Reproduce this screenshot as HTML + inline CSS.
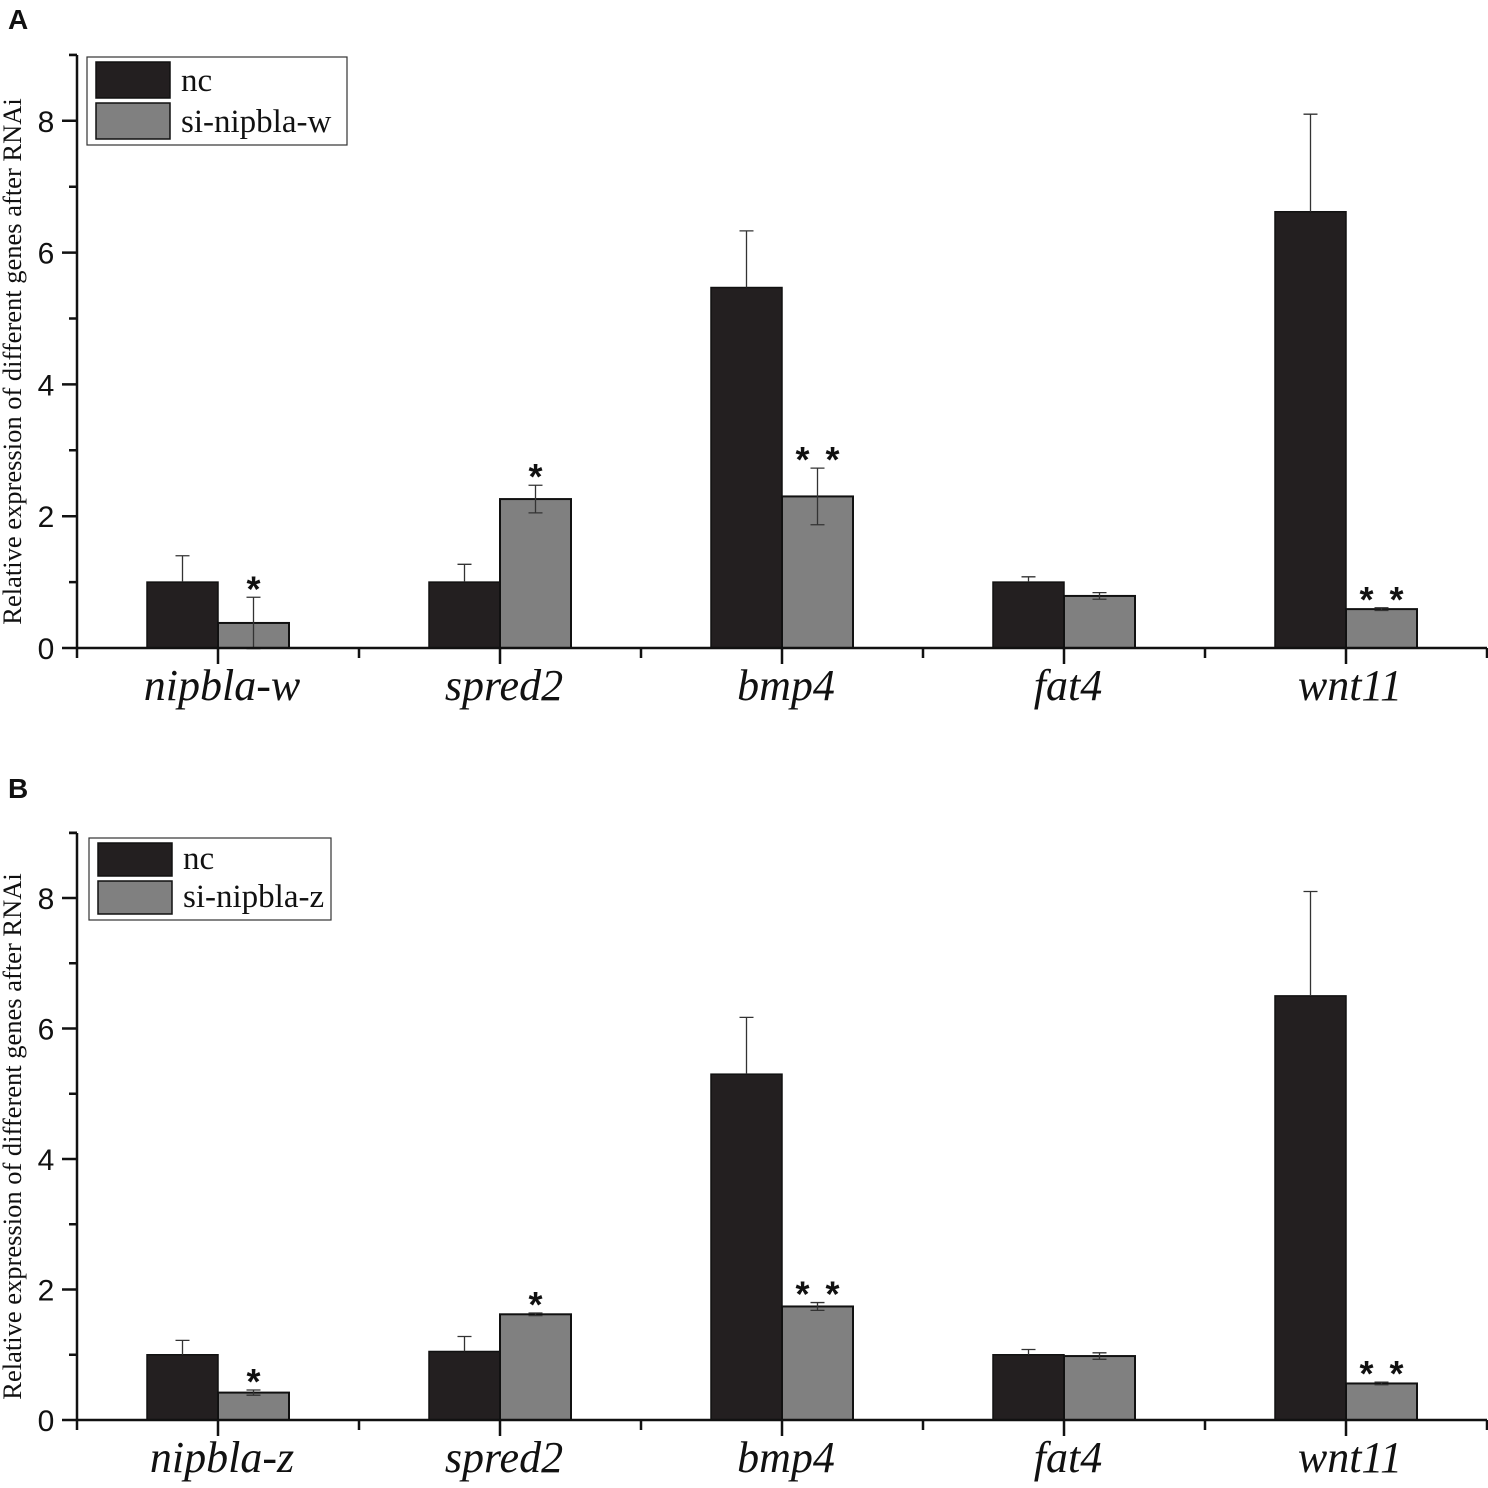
<!DOCTYPE html>
<html><head><meta charset="utf-8"><style>
html,body{margin:0;padding:0;background:#fff;}
svg{display:block;}
</style></head><body>
<svg id="chart" width="1488" height="1488" viewBox="0 0 1488 1488" xmlns="http://www.w3.org/2000/svg"></svg>
<script>
const genesA = ["nipbla-w","spred2","bmp4","fat4","wnt11"];
const ncA = [1, 1, 5.47, 1, 6.62];
const ncErrA = [0.40, 0.27, 0.86, 0.08, 1.48];
const siA = [0.38, 2.26, 2.30, 0.79, 0.59];
const siErrA = [0.39, 0.21, 0.43, 0.05, 0.02];
const sigA = ["*","*","* *","","* *"];

const genesB = ["nipbla-z","spred2","bmp4","fat4","wnt11"];
const ncB = [1, 1.05, 5.3, 1, 6.5];
const ncErrB = [0.22, 0.23, 0.87, 0.08, 1.6];
const siB = [0.42, 1.62, 1.74, 0.98, 0.56];
const siErrB = [0.04, 0.02, 0.06, 0.05, 0.02];
const sigB = ["*","*","* *","","* *"];

const yTicks = [0,2,4,6,8];

const NS = "http://www.w3.org/2000/svg";
const svg = document.getElementById("chart");
function mk(tag, attrs, parent){const e=document.createElementNS(NS,tag);for(const k in attrs)e.setAttribute(k,attrs[k]);(parent||svg).appendChild(e);return e;}

function panel(p){
  const g = mk("g",{});
  
  
  const x0=77, x1=1487;
  const y = v => p.y0 - v*p.unit;
  const step=282, first=218, bw=71;
  const cx = i => first + i*step;
  const lbl = mk("text",{x:8,y:p.letterY,"font-family":"Liberation Sans, sans-serif","font-weight":"bold","font-size":28,fill:"#111"},g);
  lbl.textContent=p.letter;
  
  
  p.genes.forEach((gn,i)=>{
    const c=cx(i);
    const b1=mk("rect",{x:c-bw,y:y(p.nc[i]),width:bw,height:p.nc[i]*p.unit,fill:"#231f20",stroke:"#111","stroke-width":1.5},g);
    
    
    const b2=mk("rect",{x:c,y:y(p.si[i]),width:bw,height:p.si[i]*p.unit,fill:"#808080",stroke:"#111","stroke-width":2},g);
    
    
    const ex=c-bw/2;
    const e1=mk("path",{d:`M${ex},${y(p.nc[i])} V${y(p.nc[i]+p.ncErr[i])} M${ex-7},${y(p.nc[i]+p.ncErr[i])} H${ex+7}`,stroke:"#333","stroke-width":1.3,fill:"none"},g);
    
    
    const sx=c+bw/2, hi=y(p.si[i]+p.siErr[i]), lo=y(p.si[i]-p.siErr[i]);
    const e2=mk("path",{d:`M${sx},${lo} V${hi} M${sx-7},${hi} H${sx+7} M${sx-7},${lo} H${sx+7}`,stroke:"#333","stroke-width":1.3,fill:"none"},g);
    
    
    if(p.sig[i]){
      const parts=p.sig[i].split(" ");
      parts.forEach((s,k)=>{
        const off = parts.length>1 ? (k===0?-15:15) : 0;
        const t=mk("text",{x:sx+off,y:hi+4,"text-anchor":"middle","font-family":"Liberation Sans, sans-serif","font-weight":"bold","font-size":36,fill:"#111"},g);
        t.textContent=s;
        
        
      });
    }
    const t=mk("text",{x:c+4,y:p.y0+52,"text-anchor":"middle","font-family":"Liberation Serif, serif","font-style":"italic","font-size":44,fill:"#111"},g);
    t.textContent=gn;
    
    
  });
  let d=`M${x0},${p.top} V${p.y0} H${x1}`;
  for(let i=0;i<=5;i++){const xx=x0+i*step;d+=` M${xx},${p.y0} v10`;}
  for(let i=0;i<5;i++){const xx=cx(i);d+=` M${xx},${p.y0} v16`;}
  for(let v=0;v<=9;v++){d+=` M${x0},${y(v)} h${v%2===0?-15:-8}`;}
  d+=` M${x0},${p.top} h-8`;
  const ax=mk("path",{d,stroke:"#111","stroke-width":2.5,fill:"none"},g);
  
  
  yTicks.forEach(v=>{
    const t=mk("text",{x:46,y:y(v)+11,"text-anchor":"middle","font-family":"Liberation Sans, sans-serif","font-size":30,fill:"#111"},g);
    t.textContent=v;
    
    
  });
  const yt=mk("text",{transform:`translate(21,${(p.top+p.y0)/2+10}) rotate(-90)`,"text-anchor":"middle","font-family":"Liberation Serif, serif","font-size":26.5,fill:"#111"},g);
  yt.textContent="Relative expression of different genes after RNAi";
  
  
  const L=p.leg;
  const lg=mk("g",{},g);
  
  
  mk("rect",{x:L.x,y:L.y,width:L.w,height:L.h,fill:"#fff",stroke:"#333","stroke-width":1.2},lg);
  const h=(L.h-12)/2;
  [["#231f20","nc"],["#808080",p.siName]].forEach((it,k)=>{
    const yy=L.y+5+k*(h+3);
    mk("rect",{x:L.x+9,y:yy,width:74,height:h-2,fill:it[0],stroke:"#111","stroke-width":1.5},lg);
    const t=mk("text",{x:L.x+94,y:yy+h-9,"font-family":"Liberation Serif, serif","font-size":33,fill:"#111"},lg);
    t.textContent=it[1];
    
    
  });
}
panel({letter:"A",letterY:29,y0:648,unit:65.9,top:55,genes:genesA,nc:ncA,ncErr:ncErrA,si:siA,siErr:siErrA,sig:sigA,siName:"si-nipbla-w",leg:{x:87,y:57,w:260,h:88}});
panel({letter:"B",letterY:798,y0:1420,unit:65.25,top:833,genes:genesB,nc:ncB,ncErr:ncErrB,si:siB,siErr:siErrB,sig:sigB,siName:"si-nipbla-z",leg:{x:89,y:838,w:242,h:82}});
</script>
</body></html>
